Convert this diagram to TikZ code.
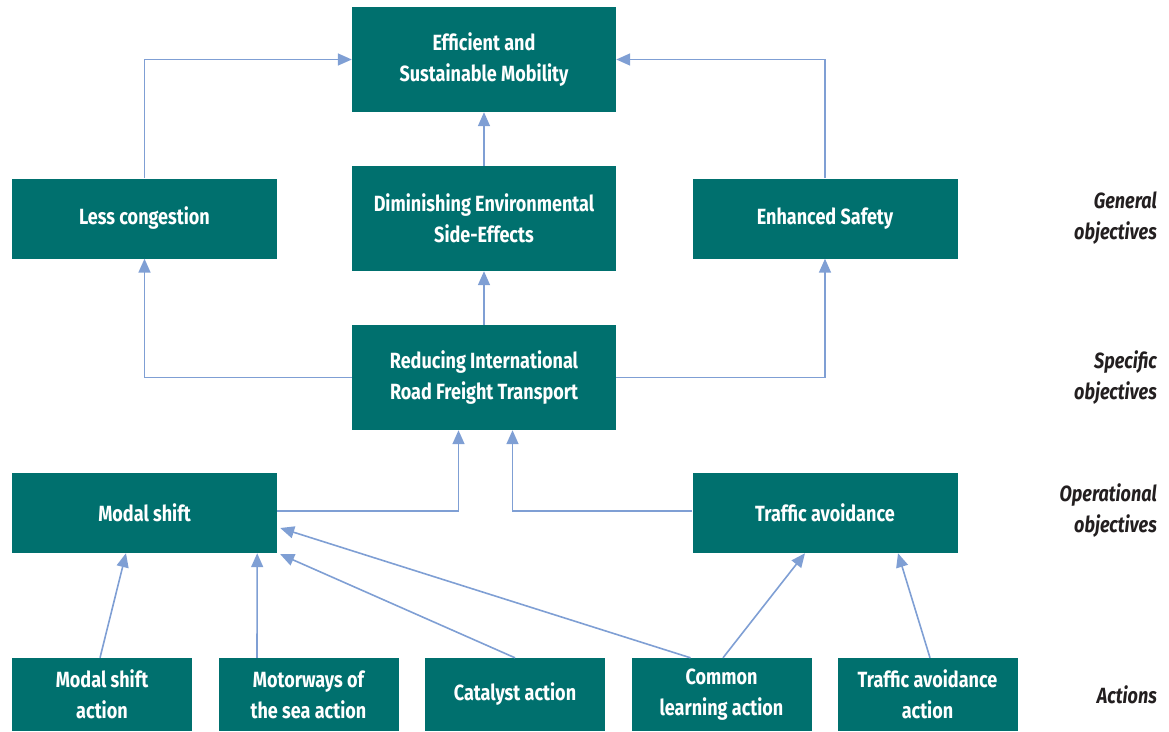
\documentclass[tikz,border=0pt]{standalone}
\usepackage{fontspec}
\setmainfont{Fira Sans}[FakeStretch=0.82]
\usetikzlibrary{arrows.meta,calc}
\definecolor{boxteal}{RGB}{0,112,110}
\definecolor{arrowblue}{RGB}{127,159,212}
\definecolor{lbltext}{RGB}{35,31,32}
\tikzset{
  box/.style={fill=boxteal, text=white, font=\fontsize{22}{31}\selectfont\bfseries, align=center, inner sep=0pt},
  bigbox/.style={box, minimum width=264pt, minimum height=105pt},
  midbox/.style={box, minimum width=265pt, minimum height=80pt},
  actbox/.style={box, minimum width=180pt, minimum height=73pt},
  conn/.style={draw=arrowblue, line width=1.6pt, -{Triangle[length=14pt,width=12pt]}},
  lbl/.style={font=\fontsize{22}{31}\selectfont\bfseries\itshape, align=right, anchor=east, inner sep=0pt, text=lbltext}
}
\begin{document}
\begin{tikzpicture}[x=1pt,y=-1pt]
\useasboundingbox (0,0) rectangle (1169,731);
% boxes
\node[bigbox] (eff) at (484,59.5) {Efficient and\\Sustainable Mobility};
\node[midbox] (less) at (144.5,218.5) {Less congestion};
\node[bigbox] (dim) at (484,218.5) {Diminishing Environmental\\Side-Effects};
\node[midbox] (safe) at (825,218.5) {Enhanced Safety};
\node[bigbox] (red) at (484,377.5) {Reducing International\\Road Freight Transport};
\node[midbox] (ms) at (144.5,513) {Modal shift};
\node[midbox] (ta) at (825,513) {Traffic avoidance};
\node[actbox] (msa) at (102,694.5) {Modal shift\\action};
\node[actbox] (mot) at (308.5,694.5) {Motorways of\\the sea action};
\node[actbox] (cat) at (515,694.5) {Catalyst action};
\node[actbox] (cl) at (721.5,694.5) {Common\\learning action};
\node[actbox] (taa) at (927.5,694.5) {Traffic avoidance\\action};
% side labels
\node[lbl] (lgen) at (1157,218.5) {General\\objectives};
\node[lbl] (lspec) at (1157,377.5) {Specific\\objectives};
\node[lbl] (lop) at (1157,511) {Operational\\objectives};
\node[lbl] (lact) at (1157,694.5) {Actions};
% connectors
\draw[conn] (less.north) |- (eff.west);
\draw[conn] (safe.north) |- (eff.east);
\draw[conn] (dim.north) -- (eff.south);
\draw[conn] (red.north) -- (dim.south);
\draw[conn] (red.west) -| (less.south);
\draw[conn] (red.east) -| (safe.south);
\coordinate (redL) at ($(red.south)+(-25.5,0)$);
\coordinate (redR) at ($(red.south)+(28.5,0)$);
\draw[conn] ($(ms.east)+(0,-2)$) -| (redL);
\draw[conn] ($(ta.west)+(0,-2)$) -| (redR);
\draw[conn] ($(msa.north)+(-2,0)$) -- ($(ms.south)+(-18.5,0)$);
\draw[conn] ($(mot.north)+(-51.5,0)$) -- ($(ms.south east)+(-20,0)$);
\draw[conn] (cat.north) -- ($(ms.south east)+(3,1)$);
\draw[conn] ($(cl.north)+(-31,0)$) -- ($(ms.east)+(3,15)$);
\draw[conn] ($(cl.north)+(1.5,0)$) -- ($(ta.south)+(-20,0)$);
\draw[conn] ($(taa.north)+(2.5,0)$) -- ($(ta.south)+(73,0)$);
\end{tikzpicture}
\end{document}
